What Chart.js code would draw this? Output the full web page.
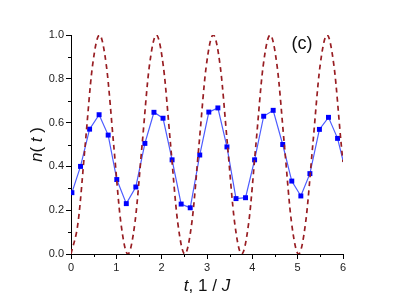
<!DOCTYPE html>
<html>
<head>
<meta charset="utf-8">
<script src="https://cdn.jsdelivr.net/npm/chart.js@4/dist/chart.umd.min.js"></script>
<style>
  body { margin: 0; background: #fff; }
  #box { width: 399px; height: 305px; position: relative; }
</style>
</head>
<body>
<div id="box"><canvas id="chartContainer"></canvas></div>
<script>
// blue squares, n(t) simulation
var tSim = [0.02, 0.21, 0.41, 0.62, 0.82, 1.01, 1.22, 1.43, 1.63, 1.83,
            2.03, 2.23, 2.43, 2.63, 2.84, 3.04, 3.24, 3.44, 3.64, 3.85,
            4.05, 4.25, 4.46, 4.67, 4.87, 5.07, 5.27, 5.48, 5.68, 5.88, 6.08];
var nSim = [0.28, 0.40, 0.57, 0.636, 0.543, 0.34, 0.23, 0.306, 0.505, 0.647,
            0.62, 0.43, 0.228, 0.211, 0.452, 0.648, 0.667, 0.489, 0.253, 0.257,
            0.43, 0.629, 0.656, 0.50, 0.333, 0.265, 0.367, 0.569, 0.624, 0.528, 0.36];

// dashed dark red curve
var tDash = [0, 0.157, 0.314, 0.471, 0.628, 0.784, 0.941, 1.098, 1.255, 1.412,
             1.569, 1.726, 1.883, 2.039, 2.196, 2.353, 2.51, 2.667, 2.824, 2.981,
             3.138, 3.294, 3.451, 3.608, 3.765, 3.922, 4.079, 4.236, 4.393, 4.549,
             4.706, 4.863, 5.02, 5.177, 5.334, 5.491, 5.648, 5.804, 5.961, 6.0];
var nDash = [0, 0.146, 0.5, 0.854, 1, 0.854, 0.5, 0.146, 0, 0.146,
             0.5, 0.854, 1, 0.854, 0.5, 0.146, 0, 0.146, 0.5, 0.854,
             1, 0.854, 0.5, 0.146, 0, 0.146, 0.5, 0.854, 1, 0.854,
             0.5, 0.146, 0, 0.146, 0.5, 0.854, 1, 0.854, 0.5, 0.42];

var xTicks = [0, 1, 2, 3, 4, 5, 6];
var yTicks = [0.0, 0.2, 0.4, 0.6, 0.8, 1.0];
var panelLabel = '(c)';

var FONT = '"Liberation Sans", Arial, sans-serif';

function pts(xs, ys) {
    return xs.map(function(x, i) { return { x: x, y: ys[i] }; });
}

// draws pieces of text [style, string] one after another
function mixedText(c, parts, size, x, y, centred) {
    var total = 0;
    parts.forEach(function(p) {
        c.font = p[0] + ' ' + size + 'px ' + FONT;
        total += c.measureText(p[1]).width;
    });
    var x0 = centred ? x - total / 2 : x;
    parts.forEach(function(p) {
        c.font = p[0] + ' ' + size + 'px ' + FONT;
        c.fillText(p[1], x0, y);
        x0 += c.measureText(p[1]).width;
    });
}

// minor ticks, axis titles and the panel label
var extras = {
    id: 'extras',
    afterDraw: function(chart) {
        var c = chart.ctx, xs = chart.scales.x, ys = chart.scales.y;
        var a = chart.chartArea;
        c.save();
        c.strokeStyle = '#000';
        c.lineWidth = 1;
        c.beginPath();
        for (var v = 0.5; v < 6; v += 1) {
            var px = Math.round(xs.getPixelForValue(v)) + 0.5;
            c.moveTo(px, a.bottom); c.lineTo(px, a.bottom + 3);
        }
        for (var w = 0.1; w < 1; w += 0.2) {
            var py = Math.round(ys.getPixelForValue(w)) + 0.5;
            c.moveTo(a.left, py); c.lineTo(a.left - 3, py);
        }
        c.stroke();

        c.fillStyle = '#111';
        c.textBaseline = 'alphabetic';
        mixedText(c, [['italic', 't'], ['normal', ', 1 / '], ['italic', 'J']], 17,
                  (a.left + a.right) / 2, 291, true);

        c.translate(42, (a.top + a.bottom) / 2);
        c.rotate(-Math.PI / 2);
        mixedText(c, [['italic', 'n'], ['normal', '( '], ['italic', 't'], ['normal', ' )']], 17,
                  0, 0, true);
        c.restore();

        c.save();
        c.fillStyle = '#111';
        c.font = '18px ' + FONT;
        c.textAlign = 'center';
        c.fillText(panelLabel, 302, 49);
        c.restore();
    }
};

var ctx = document.getElementById('chartContainer').getContext('2d');
var myChart = new Chart(ctx, {
    type: 'line',
    data: {
        datasets: [{
            label: 'dashed',
            data: pts(tDash, nDash),
            borderColor: '#981d22',
            borderWidth: 1.7,
            borderDash: [5, 4],
            pointRadius: 0,
            cubicInterpolationMode: 'monotone',
            fill: false
        }, {
            label: 'n(t)',
            data: pts(tSim, nSim),
            borderColor: '#4d5cff',
            borderWidth: 1.2,
            pointStyle: 'rect',
            pointRadius: 3.5,
            pointBackgroundColor: '#0000ff',
            pointBorderColor: '#0000ff',
            pointBorderWidth: 0,
            tension: 0,
            fill: false
        }]
    },
    plugins: [extras],
    options: {
        responsive: true,
        maintainAspectRatio: false,
        animation: false,
        layout: { padding: { left: 0, right: 56, top: 35, bottom: 0 } },
        plugins: { legend: { display: false }, tooltip: { enabled: false } },
        scales: {
            x: {
                type: 'linear', min: 0, max: 6,
                afterFit: function(s) { s.height = 51; },
                afterBuildTicks: function(s) { s.ticks = xTicks.map(function(v) { return { value: v }; }); },
                grid: { drawOnChartArea: false, tickLength: 5, color: '#000', tickColor: '#000' },
                border: { color: '#000', width: 1 },
                ticks: { color: '#222', padding: 2, maxRotation: 0,
                         font: { family: FONT, size: 11 } }
            },
            y: {
                type: 'linear', min: 0, max: 1,
                afterFit: function(s) { s.width = 71; },
                afterBuildTicks: function(s) { s.ticks = yTicks.map(function(v) { return { value: v }; }); },
                grid: { drawOnChartArea: false, tickLength: 5, color: '#000', tickColor: '#000' },
                border: { color: '#000', width: 1 },
                ticks: { color: '#222', padding: 2,
                         callback: function(v) { return Number(v).toFixed(1); },
                         font: { family: FONT, size: 11 } }
            }
        }
    }
});
</script>
</body>
</html>
